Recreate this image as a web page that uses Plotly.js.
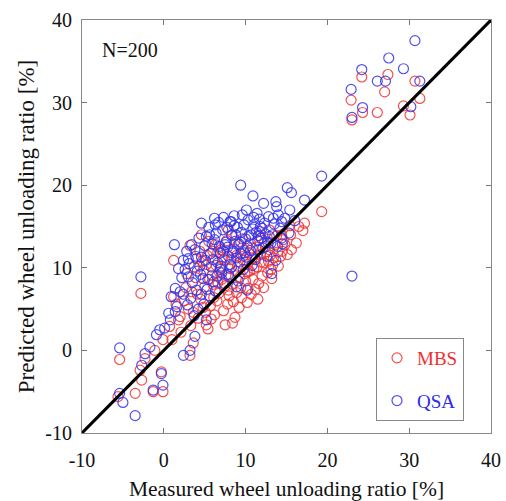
<!DOCTYPE html>
<html><head><meta charset="utf-8">
<script src="https://cdn.plot.ly/plotly-3.0.1.min.js"></script>
<style>html,body{margin:0;padding:0;background:#fff;}#chart{width:506px;height:501px;}</style>
</head><body><div id="chart"></div>
<script>
// MBS (red) measured / predicted values [%]
const mbsX = [-5.4,-3.5,-1.3,-0.1,-0.3,-2.8,1.2,-2.3,-2.9,-2.7,-1.1,-0.1,1.0,1.2,2.0,1.8,2.8,3.2,3.6,5.2,-5.6,
  22.9,24.2,24.3,26.1,27.0,27.4,30.7,31.3,29.3,30.1,23.0,
  19.3,17.2,15.4,14.5,12.9,14.4,15.6,13.4,13.2,10.2,8.4,12.2,10.2,4.6,7.9,
  3.0,3.4,3.9,4.2,4.5,4.9,5.3,5.7,6.0,6.4,6.7,7.0,7.3,7.6,7.9,8.2,8.5,8.8,9.1,9.4,9.7,10.0,10.4,10.7,11.0,11.3,11.6,11.9,12.3,12.7,13.0,13.6,14.0,14.6,15.1,16.2,17.0,
  2.5,3.7,4.4,5.0,5.5,6.2,6.6,7.1,7.7,8.0,8.4,8.9,9.2,9.6,9.9,10.3,10.6,11.1,11.5,12.0,12.5,13.3,13.8,14.3,6.9,5.9,4.7,3.3,2.1,2.7,5.4,7.5,8.7,10.9,12.2,6.3,8.3,9.0,11.7,7.4,4.0,3.2,5.1,6.5,9.5,11.4,12.9,15.5,16.5,1.5,0.7,
  4.8,5.6,6.1,6.8,7.2,7.8,8.1,8.6,9.3,9.8,10.2,10.8,11.2,11.8,12.4,13.1,13.9,14.8,5.2,6.0,4.1,3.6,7.5,8.9,10.5,12.8,6.6,9.7,11.9,5.8];
const mbsY = [-1.1,-5.2,-5.0,-5.0,-2.6,6.9,10.9,-1.0,-2.4,-3.6,0.0,1.3,1.3,6.5,4.1,3.7,9.3,-0.6,0.9,3.1,-5.6,
  30.3,33.1,28.8,28.8,31.3,33.4,32.6,30.5,29.6,28.5,27.9,
  16.8,15.4,15.1,12.0,12.2,14.0,12.2,11.2,8.7,5.8,3.3,10.6,9.5,14.0,14.6,
  5.0,7.1,8.8,3.9,6.2,9.7,11.5,5.4,8.0,10.3,6.9,12.2,4.8,9.1,7.3,11.0,5.9,9.6,12.8,7.6,10.9,8.4,11.8,6.8,9.9,12.5,8.1,10.7,13.1,9.4,11.5,12.8,10.2,13.4,11.6,13.0,14.5,
  6.0,10.1,12.0,7.7,13.2,4.3,11.9,8.6,13.3,6.6,8.0,11.5,5.2,13.5,9.3,7.5,13.0,11.2,6.2,9.0,11.9,10.3,13.9,11.4,10.0,9.1,10.8,3.0,2.2,7.6,2.6,3.1,4.0,8.6,7.6,12.8,14.0,10.2,14.4,11.0,11.1,12.7,4.6,6.0,6.4,10.1,14.6,14.0,15.0,5.6,2.9,
  5.2,8.6,6.4,9.5,11.3,5.6,9.9,12.3,8.9,12.1,10.4,12.4,7.4,11.6,12.6,9.8,11.9,12.8,10.4,12.0,6.8,4.6,7.8,7.0,9.6,10.8,8.2,11.4,13.6,3.8];
// QSA (blue)
const qsaX = [-5.4,-5.4,-5.0,-3.5,-1.3,-0.1,-2.8,-2.7,-2.3,-1.7,-0.9,-0.5,0.1,0.6,0.8,1.4,1.6,1.4,2.0,1.3,2.8,3.0,-0.3,2.4,3.2,3.8,5.2,
  22.9,24.2,24.3,26.1,27.1,27.5,29.3,30.7,31.3,30.2,23.0,
  23.0,19.3,17.2,9.4,10.9,15.1,15.6,12.2,13.7,13.8,15.4,14.4,14.4,10.1,11.4,11.7,13.2,10.2,8.9,4.6,6.3,8.1,3.4,5.6,2.4,
  3.5,4.1,4.6,5.0,5.3,5.8,6.2,6.5,6.9,7.2,7.4,7.8,8.1,8.3,8.6,8.9,9.2,9.5,9.7,10.0,10.3,10.6,10.9,11.2,11.5,11.8,12.1,12.4,12.8,13.1,13.5,13.9,14.2,14.8,15.3,16.0,
  2.6,3.1,3.8,4.3,4.8,5.5,6.0,6.7,7.0,7.6,8.0,8.5,9.0,9.3,9.9,10.4,10.8,11.3,11.9,12.6,13.3,14.0,6.3,7.9,5.1,4.0,3.3,2.9,6.8,8.7,9.6,11.0,12.3,7.3,5.9,4.4,3.7,4.9,6.1,8.2,10.1,12.9,14.5,2.2,1.8,0.9,4.2,5.6,7.1,9.1,11.6,13.7,
  3.9,4.5,5.2,5.7,6.4,6.6,7.3,7.7,8.4,8.8,9.4,9.8,10.2,10.7,11.1,11.6,12.0,12.7,13.4,4.6,5.4,6.9,7.5,8.3,9.4,3.0,2.4,6.2,8.6,7.9];
const qsaY = [0.3,-5.2,-6.3,-7.9,-4.8,-4.2,8.9,-1.8,-0.4,0.4,1.9,2.5,2.7,4.5,3.7,4.7,5.3,7.5,7.1,12.8,12.0,11.1,-2.8,-0.6,0.0,1.7,3.7,
  31.6,34.0,29.4,32.6,32.6,35.4,34.1,37.5,32.6,29.5,28.2,
  9.0,21.1,18.2,20.0,18.7,19.7,19.1,17.8,18.0,17.4,17.0,13.6,15.6,17.0,16.6,15.9,9.3,7.3,7.7,15.4,15.2,15.6,12.8,14.0,10.9,
  8.2,9.6,11.3,12.7,7.4,10.1,13.4,9.0,11.8,14.6,8.1,12.5,10.4,13.9,15.1,11.2,12.9,14.3,9.8,13.5,15.8,12.1,14.7,11.0,13.3,15.0,12.4,14.1,16.2,13.0,15.3,12.6,14.8,16.0,14.2,15.7,
  9.8,10.5,12.2,13.6,8.7,14.9,11.0,15.5,10.2,13.1,8.9,12.0,14.9,10.7,11.8,13.9,10.3,14.3,13.6,11.4,14.0,16.4,7.2,11.4,10.9,7.3,6.3,5.5,12.6,13.2,16.4,16.1,15.4,16.1,12.9,10.2,4.2,5.6,8.3,15.6,11.3,13.8,12.9,8.8,9.9,6.5,5.0,6.6,9.4,8.4,12.2,10.9,
  11.4,9.2,13.8,11.7,14.2,10.6,12.0,14.9,11.8,14.0,13.1,15.2,12.6,14.0,15.3,13.9,14.8,13.1,16.0,6.8,8.6,9.8,12.8,10.1,11.7,8.9,6.8,16.0,16.3,9.2];
const refLine = [-10, 40];
const tickVals = [-10, 0, 10, 20, 30, 40];
const tickLabels = ['-10', '0', '10', '20', '30', '40'];

const serif = 'Liberation Serif, Times New Roman, serif';
const traces = [
  {x: mbsX, y: mbsY, type: 'scatter', mode: 'markers', name: '<span style="color:#f03030">MBS</span>', legendgroup: 'a',
   marker: {symbol: 'circle-open', size: 10, color: 'rgba(240,50,50,0.85)', line: {width: 1.2}}},
  {x: qsaX, y: qsaY, type: 'scatter', mode: 'markers', name: '<span style="color:#2a2ae8">QSA</span>', legendgroup: 'b',
   marker: {symbol: 'circle-open', size: 10, color: 'rgba(50,50,235,0.85)', line: {width: 1.2}}},
  {x: refLine, y: refLine, type: 'scatter', mode: 'lines', showlegend: false,
   line: {color: '#000', width: 3}}
];
const axisBase = {
  range: [-10, 40], tickvals: tickVals, ticktext: tickLabels, ticks: 'inside', ticklen: 5, tickcolor: '#777',
  showline: true, linecolor: '#888', linewidth: 1, mirror: 'ticks', showgrid: false, zeroline: false,
  tickfont: {family: serif, size: 20, color: '#111'}
};
const layout = {
  width: 506, height: 501,
  margin: {l: 82, r: 15, t: 20, b: 68},
  paper_bgcolor: '#fff', plot_bgcolor: '#fff',
  font: {family: serif, color: '#111'},
  xaxis: Object.assign({}, axisBase, {ticklabelstandoff: 9,
    title: {text: 'Measured wheel unloading ratio [%]', font: {family: serif, size: 21.5}, standoff: 10}}),
  yaxis: Object.assign({}, axisBase, {ticklabelstandoff: 5,
    title: {text: 'Predicted wheel unloading ratio [%]', font: {family: serif, size: 23}, standoff: 4}}),
  legend: {x: 0.934, y: 0.029, xanchor: 'right', yanchor: 'bottom', bgcolor: '#fff',
    bordercolor: '#888', borderwidth: 1, font: {family: serif, size: 19},
    traceorder: 'grouped', tracegroupgap: 15},
  annotations: [{x: 0.045, y: 0.96, xref: 'paper', yref: 'paper', xanchor: 'left', yanchor: 'top',
    text: 'N=200', showarrow: false, font: {family: serif, size: 20, color: '#111'}}]
};
Plotly.newPlot('chart', traces, layout, {displayModeBar: false, staticPlot: true});
</script></body></html>
